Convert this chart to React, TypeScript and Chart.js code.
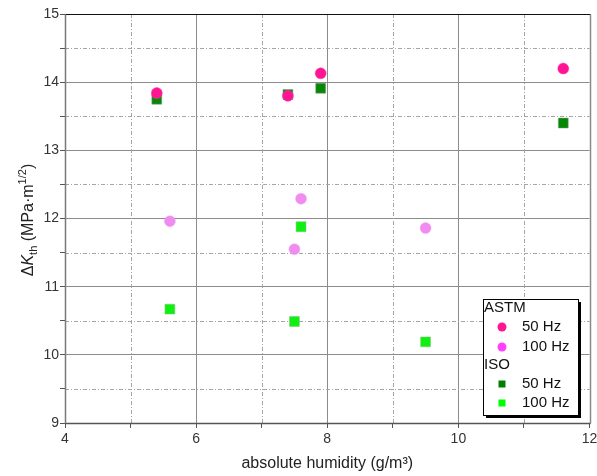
import React, { useEffect, useRef } from 'react';
import { Chart, registerables } from 'chart.js';

Chart.register(...registerables);

// ---- data ----
const astm50X = [5.4, 7.4, 7.9, 11.6];
const astm50Y = [13.84, 13.8, 14.13, 14.2];
const astm100X = [5.6, 7.6, 7.5, 9.5];
const astm100Y = [11.96, 12.29, 11.55, 11.86];
const iso50X = [5.4, 7.4, 7.9, 11.6];
const iso50Y = [13.75, 13.82, 13.91, 13.4];
const iso100X = [5.6, 7.6, 7.5, 9.5];
const iso100Y = [10.67, 11.88, 10.49, 10.19];

const xMin = 4;
const xMax = 12;
const yMin = 9;
const yMax = 15;
const xMinorGrid = [5, 7, 9, 11];
const yMinorGrid = [9.5, 10.5, 11.5, 12.5, 13.5, 14.5];

const xTitle = 'absolute humidity (g/m³)';
const groupNames = ['ASTM', 'ISO'];
const freqLabels = ['50 Hz', '100 Hz'];

const toPts = (xs: number[], ys: number[]) => xs.map((x, i) => ({ x, y: ys[i] }));

const FONT = 'Arial, "Liberation Sans", sans-serif';

const legendMarkers = [
  { style: 'circle', color: '#FF1493', r: 4.5 },
  { style: 'circle', color: '#FF40FF', r: 4.5 },
  { style: 'rect', color: '#008000', r: 5 },
  { style: 'rect', color: '#00FF00', r: 5 },
];

function drawYTitle(ctx: CanvasRenderingContext2D, bx: number, cy: number) {
  const size = 16;
  const small = Math.round(size * 0.7);
  const parts = [
    { t: 'Δ', f: `${size}px ${FONT}`, dy: 0 },
    { t: 'K', f: `italic ${size}px ${FONT}`, dy: 0 },
    { t: 'th', f: `${small}px ${FONT}`, dy: size * 0.28 },
    { t: ' (MPa·m', f: `${size}px ${FONT}`, dy: 0 },
    { t: '1/2', f: `${small}px ${FONT}`, dy: -size * 0.42 },
    { t: ')', f: `${size}px ${FONT}`, dy: 0 },
  ];
  ctx.save();
  let total = 0;
  const widths = parts.map((p) => {
    ctx.font = p.f;
    const w = ctx.measureText(p.t).width;
    total += w;
    return w;
  });
  ctx.translate(bx, cy);
  ctx.rotate(-Math.PI / 2);
  ctx.fillStyle = '#222';
  ctx.textBaseline = 'alphabetic';
  ctx.textAlign = 'left';
  let u = -total / 2;
  parts.forEach((p, i) => {
    ctx.font = p.f;
    ctx.fillText(p.t, u, p.dy);
    u += widths[i];
  });
  ctx.restore();
}

const decorPlugin = {
  id: 'decor',
  beforeDatasetsDraw(chart: any) {
    const { ctx, chartArea: a, scales } = chart;
    const x = scales.x;
    const y = scales.y;
    ctx.save();
    ctx.strokeStyle = '#a6a6a6';
    ctx.lineWidth = 1;
    ctx.setLineDash([4, 2, 1, 2]);
    xMinorGrid.forEach((v) => {
      const px = Math.round(x.getPixelForValue(v)) + 0.5;
      ctx.beginPath();
      ctx.moveTo(px, a.top);
      ctx.lineTo(px, a.bottom);
      ctx.stroke();
    });
    yMinorGrid.forEach((v) => {
      const py = Math.round(y.getPixelForValue(v)) + 0.5;
      ctx.beginPath();
      ctx.moveTo(a.left, py);
      ctx.lineTo(a.right, py);
      ctx.stroke();
    });
    ctx.setLineDash([]);
    const L = Math.round(a.left) + 0.5;
    const R = Math.round(a.right) + 0.5;
    const T = Math.round(a.top) + 0.5;
    const B = Math.round(a.bottom) + 0.5;
    // frame
    ctx.lineWidth = 1.5;
    ctx.strokeStyle = '#7a7a7a';
    ctx.beginPath();
    ctx.moveTo(L, T);
    ctx.lineTo(L, B);
    ctx.stroke();
    ctx.strokeStyle = '#8a8a8a';
    ctx.beginPath();
    ctx.moveTo(R, T);
    ctx.lineTo(R, B);
    ctx.stroke();
    ctx.lineWidth = 1;
    ctx.strokeStyle = '#111';
    ctx.beginPath();
    ctx.moveTo(L, T);
    ctx.lineTo(R, T);
    ctx.stroke();
    ctx.lineWidth = 1.5;
    ctx.strokeStyle = '#555';
    ctx.beginPath();
    ctx.moveTo(L, B);
    ctx.lineTo(R, B);
    ctx.stroke();
    ctx.restore();
  },
  afterDraw(chart: any) {
    const { ctx, chartArea: a } = chart;
    ctx.save();
    // axis titles
    ctx.fillStyle = '#222';
    ctx.font = `16px ${FONT}`;
    ctx.textAlign = 'center';
    ctx.textBaseline = 'alphabetic';
    ctx.fillText(xTitle, (a.left + a.right) / 2, 468);
    drawYTitle(ctx, 33, 220);

    // legend box
    const bx = 483;
    const by = 299;
    const bw = 95;
    const bh = 116;
    ctx.fillStyle = '#000';
    ctx.fillRect(bx + 3, by + 3, bw, bh);
    ctx.fillStyle = '#fff';
    ctx.fillRect(bx, by, bw, bh);
    ctx.strokeStyle = '#000';
    ctx.lineWidth = 1;
    ctx.strokeRect(bx + 0.5, by + 0.5, bw, bh);

    ctx.font = `15px ${FONT}`;
    ctx.textAlign = 'left';
    ctx.textBaseline = 'middle';
    const headerY = [308, 365];
    const rowY = [[327, 347], [384, 403]];
    groupNames.forEach((g, gi) => {
      ctx.fillStyle = '#111';
      ctx.fillText(g, bx + 1, headerY[gi]);
      freqLabels.forEach((f, fi) => {
        const m = legendMarkers[gi * 2 + fi];
        const yy = rowY[gi][fi];
        ctx.fillStyle = m.color;
        if (m.style === 'circle') {
          ctx.beginPath();
          ctx.arc(502, yy, m.r, 0, Math.PI * 2);
          ctx.fill();
        } else {
          ctx.fillRect(502 - m.r * 0.7, yy - m.r * 0.7, m.r * 1.4, m.r * 1.4);
        }
        ctx.fillStyle = '#111';
        ctx.fillText(f, 522, yy);
      });
    });
    ctx.restore();
  },
};

export default function App() {
  const ref = useRef<HTMLCanvasElement | null>(null);

  useEffect(() => {
    document.body.style.margin = '0';
    const canvas = ref.current;
    if (!canvas) return;
    const chart = new Chart(canvas, {
      type: 'scatter',
      data: {
        datasets: [
          {
            label: 'ASTM 50 Hz',
            data: toPts(astm50X, astm50Y),
            pointStyle: 'circle',
            pointRadius: 5.5,
            backgroundColor: '#FF1493',
            borderColor: '#FF3AA5',
            borderWidth: 0.5,
          },
          {
            label: 'ASTM 100 Hz',
            data: toPts(astm100X, astm100Y),
            pointStyle: 'circle',
            pointRadius: 5.5,
            backgroundColor: '#F08CF0',
            borderColor: '#F5A5F5',
            borderWidth: 0.5,
          },
          {
            label: 'ISO 50 Hz',
            data: toPts(iso50X, iso50Y),
            pointStyle: 'rect',
            pointRadius: 7,
            backgroundColor: '#068806',
            borderColor: '#7aa07a',
            borderWidth: 0.5,
          },
          {
            label: 'ISO 100 Hz',
            data: toPts(iso100X, iso100Y),
            pointStyle: 'rect',
            pointRadius: 7,
            backgroundColor: '#10F010',
            borderColor: '#80c080',
            borderWidth: 0.5,
          },
        ],
      },
      options: {
        animation: false,
        responsive: false,
        maintainAspectRatio: false,
        layout: { padding: { top: 14, right: 6, left: 0, bottom: 0 } },
        plugins: {
          legend: { display: false },
          tooltip: { enabled: false },
        },
        scales: {
          x: {
            type: 'linear',
            min: xMin,
            max: xMax,
            afterFit: (s: any) => {
              s.height = 53;
              s.paddingLeft = 0;
              s.paddingRight = 0;
            },
            border: { display: false },
            grid: {
              color: (c: any) =>
                c.tick && c.tick.value % 2 === 0 && c.tick.value > xMin && c.tick.value < xMax
                  ? '#8c8c8c'
                  : 'rgba(0,0,0,0)',
              lineWidth: 1,
              tickColor: '#555',
              tickLength: 5,
            },
            ticks: {
              stepSize: 1,
              autoSkip: false,
              maxRotation: 0,
              padding: 3,
              color: '#333',
              font: { family: FONT, size: 14 },
              callback: (v: any) => (Number(v) % 2 === 0 ? String(v) : ''),
            },
          },
          y: {
            type: 'linear',
            min: yMin,
            max: yMax,
            afterFit: (s: any) => {
              s.width = 65;
              s.paddingTop = 0;
              s.paddingBottom = 0;
            },
            border: { display: false },
            grid: {
              color: (c: any) =>
                c.tick && Number.isInteger(c.tick.value) && c.tick.value > yMin && c.tick.value < yMax
                  ? '#8c8c8c'
                  : 'rgba(0,0,0,0)',
              lineWidth: 1,
              tickColor: '#555',
              tickLength: 5,
            },
            ticks: {
              stepSize: 0.5,
              autoSkip: false,
              padding: 1,
              color: '#333',
              font: { family: FONT, size: 14 },
              callback: (v: any) => (Number.isInteger(Number(v)) ? String(v) : ''),
            },
          },
        },
      },
      plugins: [decorPlugin],
    });
    return () => chart.destroy();
  }, []);

  return (
    <div style={{ width: 597, height: 476 }}>
      <canvas ref={ref} width={597} height={476} style={{ display: 'block', width: 597, height: 476 }} />
    </div>
  );
}
